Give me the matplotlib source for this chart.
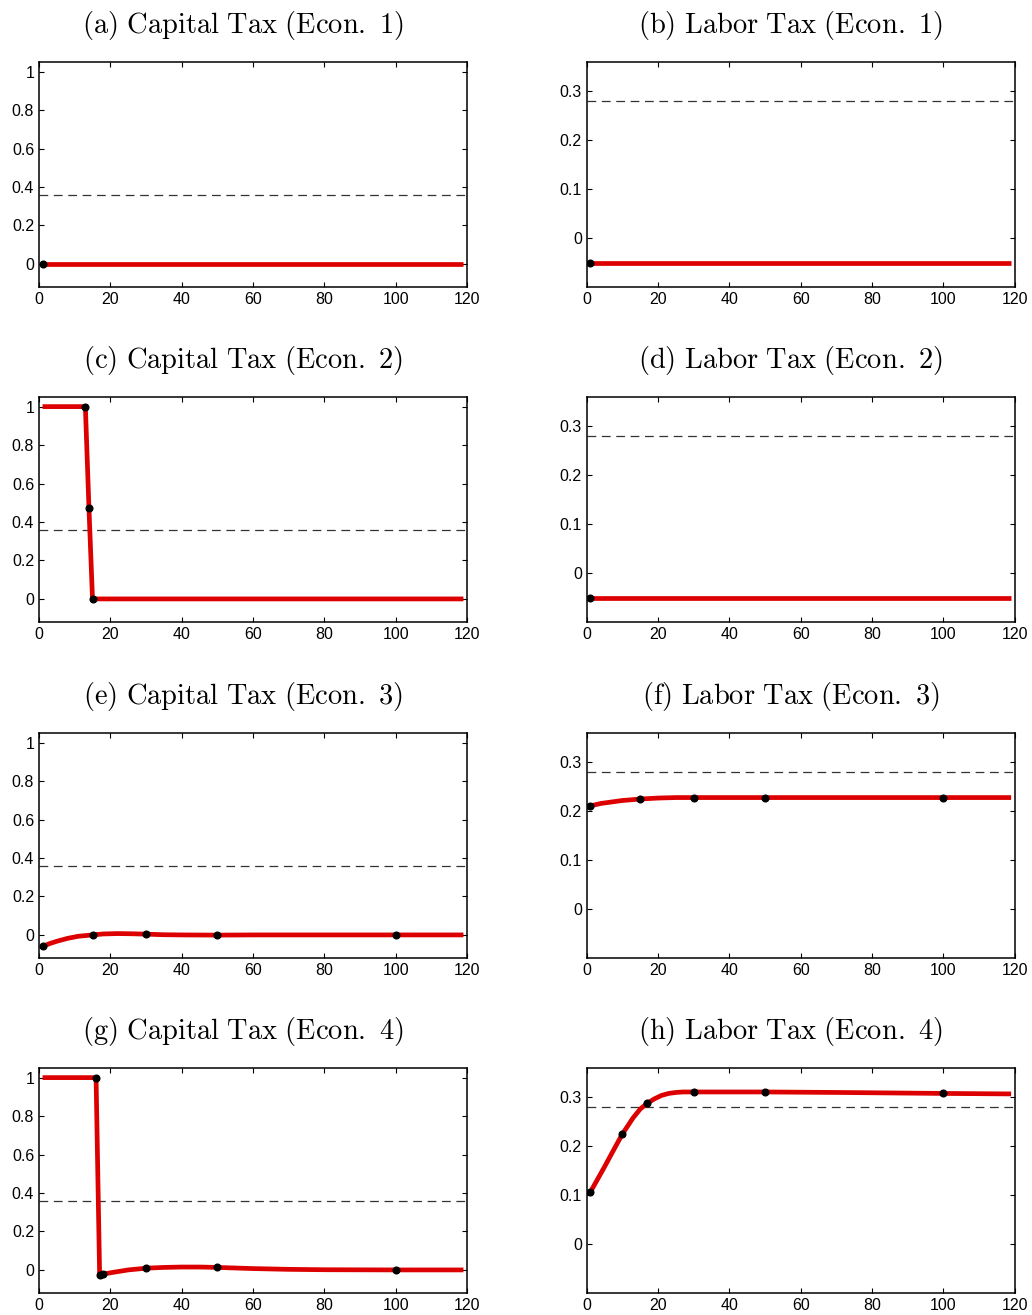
import numpy as np
import matplotlib
matplotlib.use('Agg')
import matplotlib.pyplot as plt

plt.rcParams['font.family'] = ['Liberation Sans', 'DejaVu Sans']
plt.rcParams['mathtext.fontset'] = 'cm'

# steady state (dashed) levels
cap_ss = 0.36
lab_ss = 0.28

# (a) capital tax, econ 1
a_x = [1, 119]
a_y = [0.0, 0.0]
a_mx = [1]
a_my = [0.0]

# (b) labor tax, econ 1
b_x = [1, 119]
b_y = [-0.05, -0.05]
b_mx = [1]
b_my = [-0.05]

# (c) capital tax, econ 2
c_x = [1, 13, 14, 15, 119]
c_y = [1.0, 1.0, 0.475, 0.0, 0.0]
c_mx = [13, 14, 15]
c_my = [1.0, 0.475, 0.0]

# (d) labor tax, econ 2
d_x = [1, 119]
d_y = [-0.05, -0.05]
d_mx = [1]
d_my = [-0.05]

# (e) capital tax, econ 3
e_x = [1, 3, 5, 8, 11, 15, 18, 22, 26, 30, 35, 40, 50, 60, 119]
e_y = [-0.06, -0.045, -0.033, -0.018, -0.007, 0.0, 0.005, 0.007, 0.006, 0.004,
       0.001, 0.0, -0.001, 0.0, 0.0]
e_mx = [1, 15, 30, 50, 100]
e_my = [-0.059, 0.0, 0.004, -0.001, 0.0]

# (f) labor tax, econ 3
f_x = [1, 4, 7, 10, 15, 20, 25, 30, 119]
f_y = [0.211, 0.216, 0.219, 0.222, 0.225, 0.227, 0.228, 0.228, 0.228]
f_mx = [1, 15, 30, 50, 100]
f_my = [0.211, 0.225, 0.228, 0.228, 0.228]

# (g) capital tax, econ 4
g_x = [1, 16, 17, 18, 20, 25, 30, 35, 40, 45, 50, 60, 70, 80, 100, 119]
g_y = [1.0, 1.0, -0.025, -0.022, -0.015, 0.0, 0.009, 0.013, 0.015, 0.015,
       0.013, 0.007, 0.003, 0.001, 0.0, 0.0]
g_mx = [16, 17, 18, 30, 50, 100]
g_my = [1.0, -0.025, -0.022, 0.009, 0.013, 0.0]

# (h) labor tax, econ 4
h_x = [1, 3, 5, 7, 10, 13, 15, 17, 19, 21, 23, 25, 27, 30, 50, 70, 100, 119]
h_y = [0.106, 0.132, 0.158, 0.185, 0.225, 0.258, 0.276, 0.288, 0.297, 0.304,
       0.308, 0.310, 0.311, 0.311, 0.311, 0.310, 0.308, 0.307]
h_mx = [1, 10, 17, 30, 50, 100]
h_my = [0.106, 0.225, 0.288, 0.311, 0.311, 0.308]

panels = [
    ('(a) Capital Tax (Econ. 1)', a_x, a_y, a_mx, a_my, 'cap'),
    ('(b) Labor Tax (Econ. 1)', b_x, b_y, b_mx, b_my, 'lab'),
    ('(c) Capital Tax (Econ. 2)', c_x, c_y, c_mx, c_my, 'cap'),
    ('(d) Labor Tax (Econ. 2)', d_x, d_y, d_mx, d_my, 'lab'),
    ('(e) Capital Tax (Econ. 3)', e_x, e_y, e_mx, e_my, 'cap'),
    ('(f) Labor Tax (Econ. 3)', f_x, f_y, f_mx, f_my, 'lab'),
    ('(g) Capital Tax (Econ. 4)', g_x, g_y, g_mx, g_my, 'cap'),
    ('(h) Labor Tax (Econ. 4)', h_x, h_y, h_mx, h_my, 'lab'),
]

W, H = 1032, 1315
fig = plt.figure(figsize=(W/100., H/100.), dpi=100)

lefts = [39, 586.7]
tops = [62, 397, 733, 1068]
aw, ah = 428, 225

for i, (title, x, y, mx, my, kind) in enumerate(panels):
    row, col = i // 2, i % 2
    l = lefts[col]
    t = tops[row]
    ax = fig.add_axes([l/W, (H - t - ah)/H, aw/W, ah/H])
    if kind == 'cap':
        ax.axhline(cap_ss, color='#333333', lw=0.9, ls=(0, (7, 4.5)))
        ax.set_ylim(-0.12, 1.05)
        ax.set_yticks([0, 0.2, 0.4, 0.6, 0.8, 1])
        ax.set_yticklabels(['0', '0.2', '0.4', '0.6', '0.8', '1'])
    else:
        ax.axhline(lab_ss, color='#333333', lw=0.9, ls=(0, (7, 4.5)))
        ax.set_ylim(-0.1, 0.36)
        ax.set_yticks([0, 0.1, 0.2, 0.3])
        ax.set_yticklabels(['0', '0.1', '0.2', '0.3'])
    ax.plot(x, y, color='#dd0000', lw=3.4, solid_capstyle='butt', zorder=3)
    ax.plot(mx, my, 'o', color='black', ms=4.8, zorder=4)
    ax.set_xlim(0, 120)
    ax.set_xticks(range(0, 121, 20))
    ax.tick_params(direction='in', top=True, right=True, length=3.5,
                   width=0.8, labelsize=11.5, pad=3.5, colors='black')
    for sp in ax.spines.values():
        sp.set_linewidth(1.1)
    # caption, centred a little left of the axes centre
    fig.text((l + aw/2 - 10)/W, (H - t + 29)/H,
             r'$\mathrm{' + title.replace(' ', r'\ ') + '}$',
             ha='center', va='baseline', fontsize=20.5)

fig.savefig('out.png', dpi=100)
